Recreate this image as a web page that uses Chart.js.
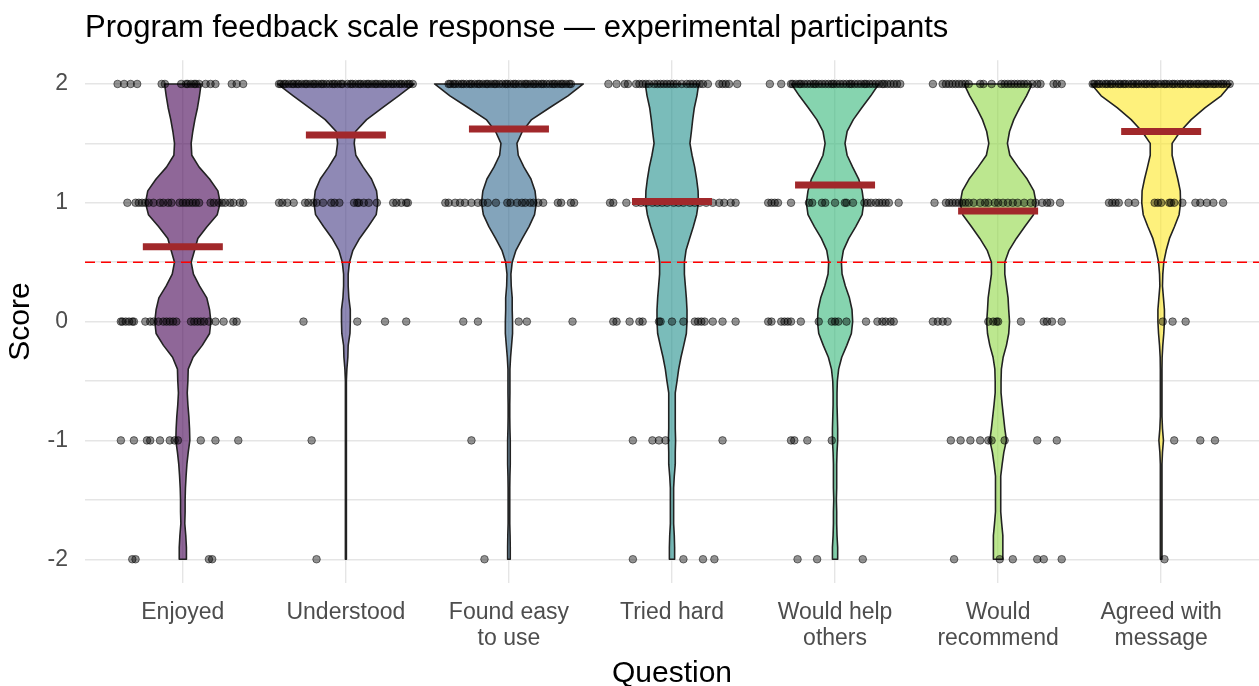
<!DOCTYPE html>
<html>
<head>
<meta charset="utf-8">
<title>Program feedback scale response</title>
<script src="https://cdn.jsdelivr.net/npm/chart.js"></script>
<style>
  html, body { margin: 0; padding: 0; background: #fff; }
  #chart { display: block; }
</style>
</head>
<body>
<canvas id="chart" width="1259" height="686"></canvas>
<script>
const categories = ['Enjoyed', 'Understood', 'Found easy\nto use', 'Tried hard', 'Would help\nothers', 'Would\nrecommend', 'Agreed with\nmessage'];
const yTicks = [-2, -1, 0, 1, 2];
const meanScores = [0.63, 1.57, 1.62, 1.01, 1.15, 0.93, 1.60];
const threshold = 0.5;

// score values the violins are sampled at, top to bottom
const densityAt = [2.0, 1.9, 1.8, 1.7, 1.6, 1.5, 1.4, 1.3, 1.2, 1.1, 1.0, 0.9, 0.8, 0.7, 0.6, 0.5, 0.4, 0.3, 0.2, 0.1,
  0.0, -0.1, -0.2, -0.3, -0.4, -0.5, -0.6, -0.7, -0.8, -0.9, -1.0, -1.1, -1.2, -1.3, -1.4, -1.5, -1.6, -1.7, -1.8, -1.9, -2.0];

// violin half widths (in x-axis units) at each densityAt value
const violinEnjoyed = [0.112, 0.102, 0.090, 0.074, 0.061, 0.051, 0.055, 0.100, 0.164, 0.215, 0.229, 0.211, 0.149, 0.092, 0.072, 0.051, 0.065, 0.102, 0.147, 0.164,
  0.172, 0.164, 0.119, 0.063, 0.033, 0.031, 0.027, 0.031, 0.037, 0.041, 0.043, 0.033, 0.025, 0.020, 0.016, 0.014, 0.014, 0.012, 0.018, 0.022, 0.022];
const violinUnderstood = [0.419, 0.323, 0.225, 0.127, 0.059, 0.051, 0.061, 0.106, 0.157, 0.188, 0.196, 0.186, 0.137, 0.084, 0.043, 0.022, 0.014, 0.014, 0.018, 0.027,
  0.027, 0.025, 0.014, 0.012, 0.006, 0.003, 0.003, 0.003, 0.003, 0.003, 0.003, 0.003, 0.003, 0.003, 0.003, 0.003, 0.003, 0.003, 0.003, 0.003, 0.003];
const violinFoundEasy = [0.456, 0.362, 0.249, 0.139, 0.082, 0.049, 0.057, 0.092, 0.135, 0.160, 0.168, 0.157, 0.123, 0.082, 0.043, 0.020, 0.012, 0.014, 0.020, 0.020,
  0.022, 0.022, 0.016, 0.010, 0.006, 0.006, 0.006, 0.005, 0.005, 0.006, 0.008, 0.008, 0.008, 0.006, 0.005, 0.005, 0.005, 0.005, 0.007, 0.008, 0.008];
const violinTriedHard = [0.164, 0.153, 0.137, 0.127, 0.119, 0.110, 0.123, 0.139, 0.151, 0.160, 0.162, 0.151, 0.131, 0.108, 0.086, 0.076, 0.076, 0.082, 0.088, 0.092,
  0.092, 0.088, 0.072, 0.055, 0.041, 0.031, 0.020, 0.020, 0.020, 0.020, 0.022, 0.020, 0.020, 0.014, 0.010, 0.010, 0.010, 0.010, 0.014, 0.016, 0.016];
const violinWouldHelp = [0.268, 0.219, 0.164, 0.112, 0.074, 0.061, 0.074, 0.108, 0.145, 0.166, 0.176, 0.166, 0.127, 0.084, 0.051, 0.039, 0.043, 0.063, 0.088, 0.104,
  0.108, 0.100, 0.072, 0.041, 0.022, 0.014, 0.012, 0.012, 0.014, 0.016, 0.016, 0.012, 0.010, 0.010, 0.010, 0.008, 0.010, 0.010, 0.012, 0.016, 0.016];
const violinWouldRecommend = [0.209, 0.174, 0.133, 0.096, 0.070, 0.057, 0.072, 0.123, 0.178, 0.219, 0.233, 0.217, 0.164, 0.112, 0.067, 0.041, 0.041, 0.051, 0.061, 0.065,
  0.070, 0.065, 0.051, 0.031, 0.020, 0.018, 0.018, 0.025, 0.033, 0.041, 0.051, 0.035, 0.025, 0.016, 0.016, 0.016, 0.016, 0.022, 0.029, 0.029, 0.029];
const violinAgreed = [0.429, 0.368, 0.270, 0.184, 0.117, 0.067, 0.067, 0.084, 0.102, 0.117, 0.119, 0.110, 0.082, 0.051, 0.031, 0.016, 0.010, 0.008, 0.014, 0.020,
  0.020, 0.016, 0.010, 0.006, 0.005, 0.005, 0.005, 0.005, 0.005, 0.008, 0.014, 0.008, 0.005, 0.005, 0.005, 0.005, 0.005, 0.005, 0.005, 0.005, 0.005];

// individual answers: horizontal jitter from the category centre, one list per score level
const pointLevels = [2, 1, 0, -1, -2];
const jitterEnjoyed = [
  [-0.40, -0.36, -0.32, -0.28, -0.13, -0.11, -0.01, 0.02, 0.03, 0.05, 0.07, 0.08, 0.10, 0.14, 0.17, 0.20, 0.30, 0.33, 0.37],
  [-0.34, -0.29, -0.27, -0.25, -0.23, -0.21, -0.18, -0.14, -0.12, -0.09, -0.07, -0.02, 0.00, 0.02, 0.04, 0.06, 0.08, 0.10, 0.17, 0.19, 0.22, 0.24, 0.26, 0.29, 0.31, 0.35, 0.37],
  [-0.38, -0.37, -0.35, -0.33, -0.31, -0.30, -0.23, -0.20, -0.18, -0.15, -0.12, -0.10, -0.08, -0.06, -0.04, 0.05, 0.07, 0.09, 0.11, 0.13, 0.16, 0.20, 0.25, 0.31, 0.33],
  [-0.38, -0.30, -0.22, -0.20, -0.14, -0.08, -0.05, -0.03, 0.11, 0.20, 0.34],
  [-0.31, -0.29, 0.16, 0.18]
];
const jitterUnderstood = [
  [-0.41, -0.40, -0.38, -0.37, -0.35, -0.33, -0.32, -0.30, -0.29, -0.27, -0.25, -0.24, -0.22, -0.20, -0.19, -0.17, -0.15, -0.14, -0.12, -0.10, -0.08, -0.07, -0.05, -0.03, -0.02,
    0.01, 0.03, 0.04, 0.06, 0.08, 0.09, 0.11, 0.13, 0.14, 0.16, 0.18, 0.19, 0.21, 0.23, 0.24, 0.26, 0.28, 0.29, 0.31, 0.33, 0.34, 0.36, 0.38, 0.39, 0.41],
  [-0.41, -0.39, -0.36, -0.32, -0.25, -0.23, -0.20, -0.18, -0.14, -0.09, -0.07, -0.04, 0.05, 0.07, 0.08, 0.11, 0.14, 0.19, 0.29, 0.31, 0.34, 0.37, 0.38],
  [-0.26, 0.07, 0.24, 0.37],
  [-0.21],
  [-0.18]
];
const jitterFoundEasy = [
  [-0.37, -0.36, -0.34, -0.33, -0.31, -0.29, -0.28, -0.26, -0.24, -0.23, -0.21, -0.19, -0.18, -0.16, -0.14, -0.13, -0.11, -0.09, -0.08, -0.06, -0.04, -0.02, -0.01,
    0.01, 0.03, 0.04, 0.06, 0.08, 0.10, 0.11, 0.13, 0.15, 0.16, 0.18, 0.20, 0.21, 0.23, 0.25, 0.27, 0.28, 0.30, 0.32, 0.33, 0.35, 0.37, 0.38],
  [-0.39, -0.37, -0.33, -0.30, -0.27, -0.23, -0.19, -0.16, -0.13, -0.08, -0.01, 0.01, 0.05, 0.08, 0.10, 0.13, 0.15, 0.18, 0.21, 0.30, 0.32, 0.38, 0.40],
  [-0.28, -0.19, 0.06, 0.11, 0.39],
  [-0.23],
  [-0.15]
];
const jitterTriedHard = [
  [-0.39, -0.34, -0.29, -0.27, -0.22, -0.20, -0.18, -0.16, -0.14, -0.11, -0.09, -0.07, -0.05, -0.03, -0.01, 0.01, 0.03, 0.06, 0.09, 0.11, 0.13, 0.15, 0.17, 0.19, 0.22, 0.29, 0.31, 0.33, 0.35, 0.40],
  [-0.38, -0.36, -0.28, -0.22, -0.19, -0.16, -0.12, -0.09, -0.06, -0.03, 0.01, 0.04, 0.07, 0.11, 0.14, 0.17, 0.21, 0.25, 0.29, 0.32, 0.36, 0.39],
  [-0.36, -0.34, -0.26, -0.20, -0.18, -0.08, -0.07, 0.00, 0.07, 0.14, 0.16, 0.18, 0.20, 0.25, 0.31, 0.39],
  [-0.24, -0.12, -0.08, -0.04, 0.31],
  [-0.24, 0.07, 0.19, 0.26]
];
const jitterWouldHelp = [
  [-0.40, -0.33, -0.27, -0.26, -0.24, -0.22, -0.21, -0.19, -0.17, -0.15, -0.13, -0.12, -0.10, -0.08, -0.06, -0.04, -0.02, -0.01,
    0.01, 0.03, 0.05, 0.07, 0.09, 0.10, 0.12, 0.14, 0.16, 0.18, 0.19, 0.21, 0.23, 0.25, 0.27, 0.29, 0.30, 0.32, 0.34, 0.36, 0.38, 0.40],
  [-0.41, -0.39, -0.37, -0.35, -0.27, -0.16, -0.14, -0.08, -0.06, 0.00, 0.06, 0.07, 0.11, 0.18, 0.20, 0.22, 0.25, 0.27, 0.29, 0.31, 0.33, 0.39],
  [-0.41, -0.39, -0.33, -0.31, -0.29, -0.27, -0.21, -0.10, -0.02, 0.00, 0.02, 0.07, 0.19, 0.26, 0.29, 0.31, 0.34, 0.36],
  [-0.27, -0.25, -0.17, -0.02],
  [-0.23, -0.11, 0.17]
];
const jitterWouldRecommend = [
  [-0.40, -0.34, -0.32, -0.30, -0.28, -0.26, -0.24, -0.22, -0.20, -0.18, -0.11, -0.09, -0.04, 0.02, 0.04, 0.06, 0.08, 0.10, 0.12, 0.14, 0.16, 0.18, 0.21, 0.24, 0.26, 0.34, 0.36, 0.39],
  [-0.39, -0.32, -0.30, -0.28, -0.26, -0.24, -0.22, -0.20, -0.18, -0.15, -0.11, -0.08, -0.06, -0.02, 0.00, 0.03, 0.06, 0.09, 0.12, 0.16, 0.20, 0.23, 0.27, 0.30, 0.32, 0.38],
  [-0.40, -0.37, -0.34, -0.31, -0.06, -0.03, -0.01, 0.00, 0.14, 0.28, 0.30, 0.33, 0.39],
  [-0.29, -0.23, -0.17, -0.11, -0.06, -0.04, 0.04, 0.24, 0.36],
  [-0.27, 0.01, 0.09, 0.24, 0.28, 0.39]
];
const jitterAgreed = [
  [-0.42, -0.41, -0.39, -0.38, -0.36, -0.34, -0.33, -0.31, -0.30, -0.28, -0.26, -0.25, -0.23, -0.22, -0.20, -0.18, -0.17, -0.15, -0.14, -0.12, -0.10, -0.09, -0.07, -0.05, -0.04, -0.02,
    0.00, 0.02, 0.03, 0.05, 0.07, 0.08, 0.10, 0.12, 0.13, 0.15, 0.17, 0.18, 0.20, 0.22, 0.23, 0.25, 0.27, 0.28, 0.30, 0.32, 0.33, 0.35, 0.37, 0.38, 0.40, 0.42],
  [-0.32, -0.30, -0.28, -0.26, -0.20, -0.16, -0.04, -0.02, 0.00, 0.05, 0.06, 0.08, 0.13, 0.21, 0.24, 0.28, 0.32, 0.38],
  [0.01, 0.07, 0.15],
  [0.08, 0.24, 0.33],
  [0.02]
];

const violinWidths = [violinEnjoyed, violinUnderstood, violinFoundEasy, violinTriedHard, violinWouldHelp, violinWouldRecommend, violinAgreed];
const jitters = [jitterEnjoyed, jitterUnderstood, jitterFoundEasy, jitterTriedHard, jitterWouldHelp, jitterWouldRecommend, jitterAgreed];

// viridis, drawn at 60% opacity
const violinColors = [
  'rgba(68, 1, 84, 0.6)',
  'rgba(68, 58, 131, 0.6)',
  'rgba(49, 104, 142, 0.6)',
  'rgba(33, 144, 140, 0.6)',
  'rgba(53, 183, 121, 0.6)',
  'rgba(143, 215, 68, 0.6)',
  'rgba(253, 231, 37, 0.6)'
];

const FONT = '"Liberation Sans", Arial, Helvetica, sans-serif';

// violins are drawn under the datasets, straight from the x / y scales
const violinPlugin = {
  id: 'violins',
  beforeDatasetsDraw(chart) {
    const { ctx, chartArea, scales: { x, y } } = chart;
    ctx.save();
    ctx.beginPath();
    ctx.rect(chartArea.left, chartArea.top, chartArea.width, chartArea.height);
    ctx.clip();
    violinWidths.forEach((widths, i) => {
      const centre = i + 1;
      ctx.beginPath();
      densityAt.forEach((v, k) => {
        const px = x.getPixelForValue(centre + widths[k]);
        const py = y.getPixelForValue(v);
        if (k === 0) ctx.moveTo(px, py); else ctx.lineTo(px, py);
      });
      for (let k = densityAt.length - 1; k >= 0; k--) {
        ctx.lineTo(x.getPixelForValue(centre - widths[k]), y.getPixelForValue(densityAt[k]));
      }
      ctx.closePath();
      ctx.fillStyle = violinColors[i];
      ctx.fill();
      ctx.lineWidth = 1.6;
      ctx.lineJoin = 'round';
      ctx.strokeStyle = '#222222';
      ctx.stroke();
    });
    ctx.restore();
  }
};

const answerPoints = [];
jitters.forEach((levels, i) => {
  levels.forEach((offsets, j) => {
    offsets.forEach(dx => answerPoints.push({ x: i + 1 + dx, y: pointLevels[j] }));
  });
});

const meanPoints = meanScores.map((m, i) => ({ x: i + 1, y: m }));

new Chart(document.getElementById('chart'), {
  type: 'scatter',
  data: {
    datasets: [
      {
        label: 'Answers',
        data: answerPoints,
        order: 3,
        pointRadius: 3.8,
        pointBackgroundColor: 'rgba(0, 0, 0, 0.42)',
        pointBorderColor: 'rgba(0, 0, 0, 0.5)',
        pointBorderWidth: 1
      },
      {
        type: 'line',
        label: 'Threshold',
        data: [{ x: 0.4, y: threshold }, { x: 7.6, y: threshold }],
        order: 2,
        borderColor: '#ff0000',
        borderWidth: 1.6,
        borderDash: [10, 6],
        pointRadius: 0,
        fill: false
      },
      {
        label: 'Mean',
        data: meanPoints,
        order: 1,
        pointStyle: 'line',
        pointRadius: 40,
        pointBorderWidth: 7,
        pointBorderColor: '#a1282b',
        pointBackgroundColor: '#a1282b'
      }
    ]
  },
  options: {
    responsive: false,
    animation: false,
    events: [],
    // the wide mean markers would otherwise make Chart.js reserve room on the right
    layout: { autoPadding: false, padding: 0 },
    plugins: {
      legend: { display: false },
      tooltip: { enabled: false },
      title: {
        display: true,
        text: 'Program feedback scale response \u2014 experimental participants',
        align: 'start',
        fullSize: false,
        color: '#000000',
        font: { family: FONT, size: 31, weight: 'normal', lineHeight: 1.2 },
        padding: { top: 10, bottom: 13 }
      }
    },
    scales: {
      x: {
        type: 'linear',
        min: 0.4,
        max: 7.6,
        afterBuildTicks: scale => { scale.ticks = categories.map((c, i) => ({ value: i + 1 })); },
        afterFit: scale => {
          scale.height = 103;
          scale.paddingLeft = 0;
          scale.paddingRight = 0;
        },
        border: { display: false },
        grid: { color: '#e5e5e5', lineWidth: 1.4, drawTicks: false },
        ticks: {
          autoSkip: false,
          maxRotation: 0,
          padding: 17,
          color: '#4d4d4d',
          font: { family: FONT, size: 23, lineHeight: 1.13 },
          callback: value => categories[Math.round(value) - 1].split('\n')
        },
        title: {
          display: true,
          text: 'Question',
          color: '#000000',
          font: { family: FONT, size: 30, lineHeight: 0.85 },
          padding: { top: 0, bottom: 0 }
        }
      },
      y: {
        type: 'linear',
        min: -2.2,
        max: 2.2,
        afterBuildTicks: scale => { scale.ticks = [-2, -1.5, -1, -0.5, 0, 0.5, 1, 1.5, 2].map(v => ({ value: v })); },
        afterFit: scale => {
          scale.width = 85;
          scale.paddingTop = 0;
          scale.paddingBottom = 0;
        },
        border: { display: false },
        grid: { color: '#e5e5e5', lineWidth: 1.4, drawTicks: false },
        ticks: {
          padding: 17,
          color: '#4d4d4d',
          font: { family: FONT, size: 23 },
          callback: value => (yTicks.includes(value) ? String(value) : '')
        },
        title: {
          display: true,
          text: 'Score',
          color: '#000000',
          font: { family: FONT, size: 30, lineHeight: 1.2 },
          padding: { top: 3, bottom: 0 }
        }
      }
    }
  },
  plugins: [violinPlugin]
});
</script>
</body>
</html>
